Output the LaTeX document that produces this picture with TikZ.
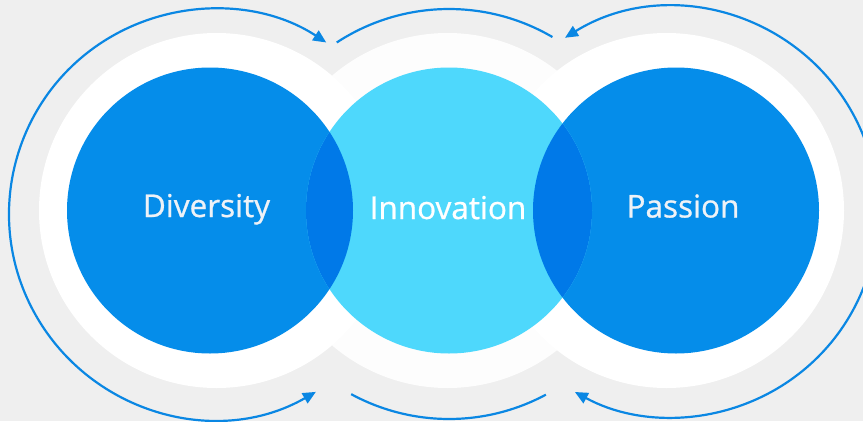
\documentclass[tikz,border=0pt]{standalone}
\usepackage{fontspec}
\setmainfont{Open Sans}
\usetikzlibrary{arrows.meta}
\definecolor{bg}{HTML}{EFEFEF}
\definecolor{halo}{HTML}{FFFFFF}
\definecolor{halomid}{HTML}{FDFDFD}
\definecolor{blueA}{HTML}{058DEA}
\definecolor{cyanA}{HTML}{4ED8FC}
\definecolor{overlapA}{HTML}{0079E8}
\definecolor{arrowA}{HTML}{0A87E3}
\definecolor{txtA}{HTML}{EEF2F7}
\begin{document}
\begin{tikzpicture}[x=1pt,y=1pt,
  halobox/.style={circle,inner sep=0pt,minimum size=355pt,draw=none},
  disc/.style={circle,inner sep=0pt,minimum size=286pt,draw=none},
  word/.style={anchor=base,font=\fontsize{31.5}{32}\selectfont\addfontfeature{FakeBold=0.8},inner sep=0pt},
  loop/.style={draw=arrowA,line width=2.2pt},
  tips/.style={{Triangle[length=13pt,width=11.5pt]}-{Triangle[length=13pt,width=11.5pt]}}]
\useasboundingbox (0,0) rectangle (863,-421);
\fill[bg] (0,0) rectangle (863,-421);
% halos
\node[halobox,fill=halomid] (HI) at (447.5,-210.5) {};
\node[halobox,fill=halo] (HD) at (216.5,-210.5) {};
\node[halobox,fill=halo] (HP) at (666.5,-210.5) {};
% discs
\node[disc,fill=blueA] (D) at (210,-210.5) {};
\node[disc,fill=blueA] (P) at (676,-210.5) {};
\node[disc,fill=cyanA] (I) at (449,-210.5) {};
% overlaps
\begin{scope}
  \clip (D.center) circle (143);
  \fill[overlapA] (I.center) circle (143);
\end{scope}
\begin{scope}
  \clip (P.center) circle (143);
  \fill[overlapA] (I.center) circle (143);
\end{scope}
% labels
\node[word,text=txtA] (tD) at (206.5,-217) {Diversity};
\node[word,text=white] (tI) at (448,-219) {Innovation};
\node[word,text=txtA] (tP) at (683,-217.5) {Passion};
% loop centres
\coordinate (cL) at (214,-214);
\coordinate (cM) at (449,-214);
\coordinate (cR) at (673,-212);
% arcs
\draw[loop,tips] ([shift={(-60.2:205)}]cL) arc[start angle=-60.2,end angle=-303.2,radius=205];
\draw[loop] ([shift={(123.2:205)}]cM) arc[start angle=123.2,end angle=59.7,radius=205];
\draw[loop] ([shift={(-118.5:205)}]cM) arc[start angle=-118.5,end angle=-61.8,radius=205];
\draw[loop,tips] ([shift={(121.8:205)}]cR) arc[start angle=121.8,end angle=-118.6,radius=205];
\end{tikzpicture}
\end{document}
